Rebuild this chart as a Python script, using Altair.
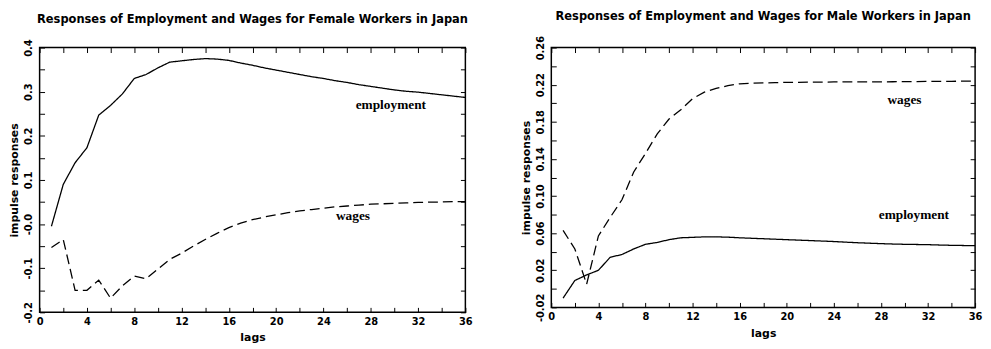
import altair as alt
import pandas as pd

# ---------------- data ----------------
lags = list(range(1, 37))

female_employment = [-0.005, 0.09, 0.139, 0.173, 0.247, 0.269, 0.295, 0.33, 0.339, 0.354,
                     0.367, 0.37, 0.373, 0.375, 0.374, 0.371, 0.365, 0.36, 0.354, 0.349,
                     0.344, 0.339, 0.334, 0.33, 0.325, 0.321, 0.316, 0.312, 0.308, 0.304,
                     0.301, 0.299, 0.296, 0.293, 0.29, 0.287]
female_wages = [-0.053, -0.035, -0.15, -0.15, -0.127, -0.168, -0.14, -0.118, -0.124, -0.102,
                -0.08, -0.066, -0.05, -0.035, -0.021, -0.008, 0.002, 0.01, 0.016, 0.021,
                0.026, 0.03, 0.033, 0.036, 0.039, 0.041, 0.043, 0.045, 0.046, 0.047,
                0.048, 0.049, 0.05, 0.05, 0.051, 0.051]

male_employment = [-0.01, 0.009, 0.015, 0.02, 0.034, 0.037, 0.043, 0.048, 0.05, 0.053,
                   0.055, 0.0555, 0.056, 0.056, 0.0557, 0.055, 0.0545, 0.054, 0.0535, 0.053,
                   0.0525, 0.052, 0.0515, 0.051, 0.0503, 0.0497, 0.0492, 0.0487, 0.0483, 0.048,
                   0.0478, 0.0476, 0.0472, 0.0469, 0.0467, 0.0465]
male_wages = [0.063, 0.043, 0.005, 0.057, 0.077, 0.096, 0.126, 0.146, 0.167, 0.183,
              0.193, 0.205, 0.212, 0.216, 0.219, 0.221, 0.2215, 0.222, 0.2222, 0.2225,
              0.2226, 0.2227, 0.2228, 0.223, 0.223, 0.223, 0.223, 0.223, 0.2232, 0.2233,
              0.2234, 0.2235, 0.2236, 0.2237, 0.2238, 0.224]

x_ticks = list(range(0, 37, 2))
x_label_values = list(range(0, 37, 4))
x_label_texts = [str(v) for v in x_label_values]

female_y_ticks = [-0.2, -0.15, -0.1, -0.05, 0.0, 0.05, 0.1, 0.15, 0.2, 0.25, 0.3, 0.35, 0.4]
female_y_label_values = [-0.2, -0.1, 0.0, 0.1, 0.2, 0.3, 0.4]
female_y_label_texts = ["-0.2", "-0.1", "-0.0", "0.1", "0.2", "0.3", "0.4"]

male_y_ticks = [-0.02, 0.0, 0.02, 0.04, 0.06, 0.08, 0.10, 0.12, 0.14, 0.16, 0.18, 0.20, 0.22, 0.24, 0.26]
male_y_label_values = [-0.02, 0.02, 0.06, 0.10, 0.14, 0.18, 0.22, 0.26]
male_y_label_texts = ["-0.02", "0.02", "0.06", "0.10", "0.14", "0.18", "0.22", "0.26"]

female_ann_text = ["employment", "wages"]
female_ann_lag = [29.7, 26.5]
female_ann_value = [0.27, 0.019]

male_ann_text = ["wages", "employment"]
male_ann_lag = [30.0, 30.8]
male_ann_value = [0.204, 0.079]

titles = ["Responses of Employment and Wages for Female Workers in Japan",
          "Responses of Employment and Wages for Male Workers in Japan"]


def label_expr(vals, texts):
    parts = [f"abs(datum.value - ({v})) < 1e-6 ? '{t}' : " for v, t in zip(vals, texts)]
    return "".join(parts) + "''"


TICK = 5
common_axis = dict(domain=False, grid=False, tickColor="black", tickWidth=1,
                   tickSize=TICK, offset=-TICK,
                   labelFont="DejaVu Sans", labelFontWeight="bold", labelFontSize=10,
                   labelColor="black", titleFont="DejaVu Sans", titleFontWeight="bold",
                   titleFontSize=11, titleColor="black")


def panel(title, emp, wag, ydom, yticks, ylabv, ylabt, ann_t, ann_x, ann_y, w, h):
    df = pd.DataFrame({
        "lag": lags + lags,
        "value": emp + wag,
        "series": ["employment"] * len(emp) + ["wages"] * len(wag),
    })
    ann = pd.DataFrame({"t": ann_t, "x": ann_x, "y": ann_y})
    xs = alt.Scale(domain=[0, 36], nice=False, zero=False)
    ys = alt.Scale(domain=ydom, nice=False, zero=False)

    lines = alt.Chart(df).mark_line(color="black", strokeWidth=1.3).encode(
        x=alt.X("lag:Q", scale=xs, axis=alt.Axis(
            orient="bottom", values=x_ticks, labelExpr=label_expr(x_label_values, x_label_texts),
            title="lags", labelPadding=4, titlePadding=6, labelFlush=False, **common_axis)),
        y=alt.Y("value:Q", scale=ys, axis=alt.Axis(
            orient="left", values=yticks, labelExpr=label_expr(ylabv, ylabt),
            title="impulse responses", labelAngle=270, labelPadding=6, titlePadding=4,
            labelFlush=False, **common_axis)),
        strokeDash=alt.StrokeDash("series:N", scale=alt.Scale(
            domain=["employment", "wages"], range=[[1, 0], [10, 5]]), legend=None),
    )
    mirror = alt.Chart(df).mark_point(opacity=0).encode(
        x=alt.X("lag:Q", scale=xs, axis=alt.Axis(orient="top", values=x_ticks, labels=False,
                                                 title="", **common_axis)),
        y=alt.Y("value:Q", scale=ys, axis=alt.Axis(orient="right", values=yticks, labels=False,
                                                   title="", **common_axis)),
    )
    text = alt.Chart(ann).mark_text(font="Liberation Serif", fontWeight="bold", fontSize=13.5,
                                    color="black").encode(
        x=alt.X("x:Q", scale=xs, axis=None),
        y=alt.Y("y:Q", scale=ys, axis=None),
        text="t:N",
    )
    return alt.layer(lines, mirror, text).resolve_axis(x="independent", y="independent").properties(
        width=w, height=h,
        title=alt.TitleParams(title, font="DejaVu Sans", fontSize=11.6, fontWeight="bold",
                              color="black", anchor="middle", offset=13),
    )


left = panel(titles[0], female_employment, female_wages, [-0.2, 0.4], female_y_ticks,
             female_y_label_values, female_y_label_texts, female_ann_text, female_ann_lag,
             female_ann_value, 431, 268)
right = panel(titles[1], male_employment, male_wages, [-0.02, 0.26], male_y_ticks,
              male_y_label_values, male_y_label_texts, male_ann_text, male_ann_lag,
              male_ann_value, 429, 263)

chart = alt.hconcat(left, right, spacing=47).properties(padding=0, background="white").configure_view(
    stroke="black", strokeWidth=1.5)

chart.save("out.html", embed_options={"renderer": "svg", "actions": False})
